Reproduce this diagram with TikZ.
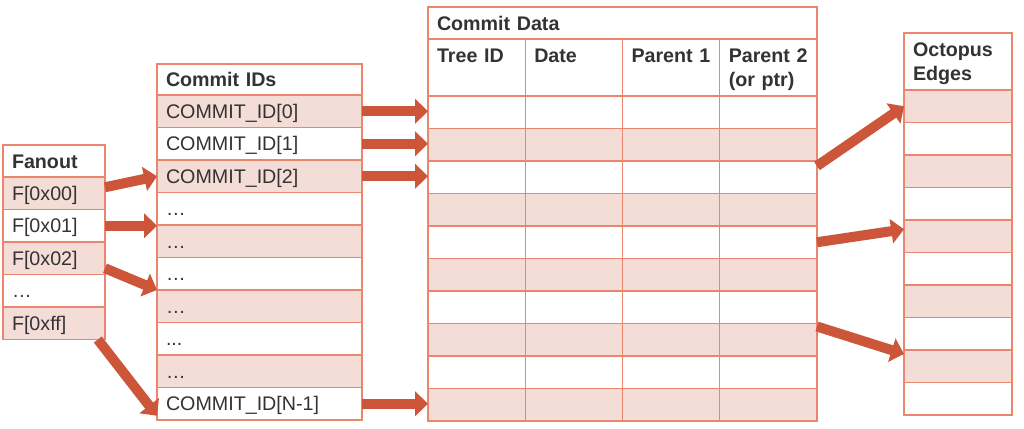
\documentclass[tikz,border=0pt]{standalone}
\usepackage{fontspec}
\setmainfont{Liberation Sans}
\usepackage{tikz}
\usetikzlibrary{positioning,calc,arrows.meta}

\definecolor{edgeline}{RGB}{234,134,110}
\definecolor{rowfill}{RGB}{245,221,215}
\definecolor{arrowred}{RGB}{205,86,58}
\definecolor{ink}{RGB}{51,51,51}
\newcommand{\plaindots}{...}

\begin{document}
\begin{tikzpicture}
\tikzstyle{every node}+=[inner sep=0pt, outer sep=0pt, text=ink, font=\fontsize{14}{17}\selectfont]
\tikzstyle{cell}=[rectangle, draw=edgeline, line width=1pt, anchor=north west, inner xsep=0.225cm, align=left, text height=0.36cm, text depth=0pt]
\tikzstyle{shade}=[cell, fill=rowfill]
\tikzstyle{plain}=[cell, fill=white]
\tikzstyle{title}=[plain, font=\fontsize{14}{17}\selectfont\bfseries]
\tikzstyle{colhead}=[title, inner ysep=0.225cm, text depth=0.615cm]
\tikzstyle{bigarrow}=[draw=arrowred, line width=0.25cm, -{Triangle[width=0.6cm,length=0.32cm]}]
\path[use as bounding box, fill=white] (0,0) rectangle (25.6,-10.7);
% fanout table
\node[title, text width=2.1cm, minimum height=0.8cm] (fanh) at (0.075,-3.625) {Fanout};
\foreach \fl/\txt [count=\i] in {shade/F[0x00], plain/F[0x01], shade/F[0x02], plain/…, shade/F[0xff]}
  \node[\fl, text width=2.1cm, minimum height=0.8125cm] (fan\i) at ($(fanh.south west)+(0,{-(\i-1)*0.8125})$) {\txt};
% commit ids
\node[title, text width=4.675cm, minimum height=0.775cm] (cidh) at (3.925,-1.6) {Commit IDs};
\foreach \fl/\txt [count=\i] in {shade/COMMIT\_ID[0], plain/COMMIT\_ID[1], shade/COMMIT\_ID[2], plain/…, shade/…, plain/…, shade/…, plain/\plaindots, shade/…, plain/COMMIT\_ID[N-1]}
  \node[\fl, text width=4.675cm, minimum height=0.8125cm] (cid\i) at ($(cidh.south west)+(0,{-(\i-1)*0.8125})$) {\txt};
% commit data
\node[title, text width=9.275cm, minimum height=0.8cm] (dath) at (10.7,-0.175) {Commit Data};
\foreach \txt [count=\col] in {Tree ID, Date, Parent 1, {Parent 2\\(or ptr)}}
  \node[colhead, text width=1.981cm, minimum height=1.425cm] (datc\col) at ($(dath.south west)+({(\col-1)*2.43125},0)$) {\txt};
\foreach \row/\fl in {1/plain,2/shade,3/plain,4/shade,5/plain,6/shade,7/plain,8/shade,9/plain,10/shade}
  \foreach \col in {1,2,3,4}
    \node[\fl, text width=1.981cm, minimum height=0.8125cm] (d\row c\col) at ($(datc1.south west)+({(\col-1)*2.43125},{-(\row-1)*0.8125})$) {};
% octopus edges
\node[colhead, text width=2.25cm, minimum height=1.4cm] (octh) at (22.6,-0.825) {Octopus\\Edges};
\foreach \row/\fl in {1/shade,2/plain,3/shade,4/plain,5/shade,6/plain,7/shade,8/plain,9/shade,10/plain}
  \node[\fl, text width=2.25cm, minimum height=0.8125cm] (oct\row) at ($(octh.south west)+(0,{-(\row-1)*0.8125})$) {};
% arrows
\draw[bigarrow] ($(fan1.east)+(0,0.15)$) -- (cid3.west);
\draw[bigarrow] (fan2.east) -- (fan2.east -| cid5.west);
\draw[bigarrow] ($(fan3.east)+(0,-0.25)$) -- (cid6.south west);
\draw[bigarrow] ($(fan5.south east)+(-0.18,0)$) -- ($(cid10.west)+(0,-0.3)$);
\foreach \i in {1,2,3,10}
  \draw[bigarrow] (cid\i.east) -- (cid\i.east -| d1c1.west);
\draw[bigarrow] ($(d3c4.north east)+(0,-0.125)$) -- (oct1.west);
\draw[bigarrow] (d5c4.east) -- ($(oct5.west)+(0,0.175)$);
\draw[bigarrow] ($(d8c4.north east)+(0,-0.075)$) -- ($(oct9.north west)+(0,-0.1)$);
\end{tikzpicture}
\end{document}
